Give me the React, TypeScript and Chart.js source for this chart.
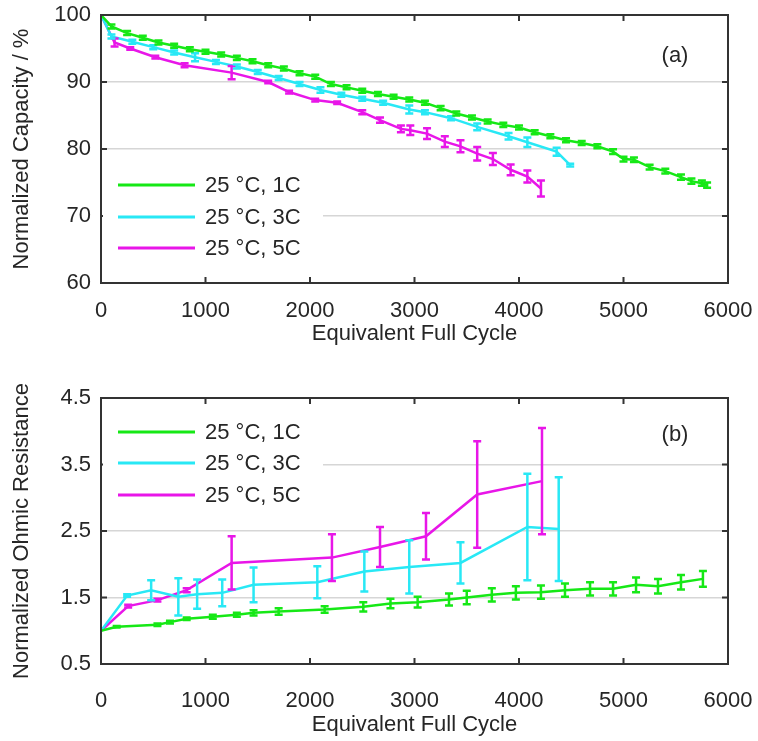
import React, { useEffect, useRef } from "react";
import { Chart, registerables } from "chart.js";

Chart.register(...registerables);

// ---------- shared labels / ticks ----------
const SERIES_LABELS = ["25 °C, 1C", "25 °C, 3C", "25 °C, 5C"];
const SERIES_COLORS = ["rgb(22,232,22)", "rgb(40,232,245)", "rgb(232,22,232)"];
const X_TICKS = [0, 1000, 2000, 3000, 4000, 5000, 6000];
const CAP_Y_TICKS = [60, 70, 80, 90, 100];
const RES_Y_TICKS = [0.5, 1.5, 2.5, 3.5, 4.5];
const X_TITLE = "Equivalent Full Cycle";
const CAP_Y_TITLE = "Normalized Capacity / %";
const RES_Y_TITLE = "Normalized Ohmic Resistance";
const CAP_PANEL = "(a)";
const RES_PANEL = "(b)";

// ---------- (a) normalized capacity ----------
const cap1C_x = [0, 100, 250, 400, 550, 700, 850, 1000, 1150, 1300, 1450, 1600, 1750, 1900, 2050, 2200, 2350, 2500, 2650, 2800, 2950, 3100, 3250, 3400, 3550, 3700, 3850, 4000, 4150, 4300, 4450, 4600, 4750, 4900, 5000, 5100, 5250, 5400, 5550, 5650, 5750, 5800];
const cap1C_y = [100, 98.3, 97.3, 96.6, 95.9, 95.4, 94.9, 94.5, 94.1, 93.6, 93.1, 92.5, 92.0, 91.3, 90.8, 89.7, 89.2, 88.7, 88.2, 87.8, 87.4, 86.9, 86.1, 85.3, 84.7, 84.1, 83.6, 83.2, 82.5, 81.9, 81.3, 80.9, 80.4, 79.6, 78.5, 78.4, 77.3, 76.7, 75.8, 75.2, 74.9, 74.6];
const cap1C_err = [0, 0.3, 0.3, 0.3, 0.3, 0.3, 0.3, 0.3, 0.3, 0.3, 0.3, 0.3, 0.3, 0.3, 0.3, 0.3, 0.3, 0.3, 0.3, 0.3, 0.3, 0.3, 0.3, 0.3, 0.3, 0.3, 0.3, 0.3, 0.3, 0.3, 0.3, 0.3, 0.3, 0.35, 0.35, 0.35, 0.35, 0.35, 0.4, 0.4, 0.4, 0.4];

const cap3C_x = [0, 100, 300, 500, 700, 900, 1100, 1300, 1500, 1700, 1900, 2100, 2300, 2500, 2700, 2950, 3100, 3350, 3600, 3900, 4080, 4360, 4490];
const cap3C_y = [100, 96.8, 96.0, 95.2, 94.4, 93.7, 93.0, 92.3, 91.5, 90.6, 89.7, 88.8, 88.1, 87.5, 86.9, 85.9, 85.5, 84.6, 83.3, 81.9, 81.0, 79.6, 77.6];
const cap3C_err = [0, 0.3, 0.3, 0.3, 0.3, 0.6, 0.3, 0.3, 0.3, 0.3, 0.3, 0.4, 0.3, 0.3, 0.3, 0.6, 0.3, 0.3, 0.5, 0.5, 0.7, 0.6, 0.2];

const cap5C_x = [0, 130, 280, 520, 800, 1250, 1600, 1800, 2050, 2260, 2500, 2670, 2870, 2960, 3120, 3290, 3440, 3600, 3750, 3920, 4080, 4210];
const cap5C_y = [100, 95.9, 95.0, 93.7, 92.5, 91.4, 90.0, 88.5, 87.3, 86.9, 85.5, 84.3, 83.0, 82.8, 82.3, 81.1, 80.4, 79.3, 78.5, 76.9, 75.9, 74.1];
const cap5C_err = [0, 0.6, 0.2, 0.2, 0.3, 1.0, 0.2, 0.2, 0.2, 0.2, 0.3, 0.4, 0.5, 0.7, 0.8, 0.8, 0.9, 1.0, 0.9, 0.8, 0.9, 1.2];

// ---------- (b) normalized ohmic resistance ----------
const res1C_x = [0, 150, 540, 660, 820, 1070, 1300, 1460, 1700, 2140, 2510, 2770, 3030, 3330, 3500, 3740, 3970, 4210, 4440, 4680, 4900, 5120, 5330, 5550, 5760];
const res1C_y = [1.0, 1.06, 1.09, 1.13, 1.18, 1.21, 1.24, 1.27, 1.29, 1.32, 1.36, 1.41, 1.43, 1.47, 1.5, 1.54, 1.57, 1.58, 1.61, 1.63, 1.63, 1.69, 1.67, 1.73, 1.78];
const res1C_err = [0, 0.01, 0.02, 0.02, 0.02, 0.03, 0.03, 0.04, 0.05, 0.05, 0.07, 0.07, 0.08, 0.09, 0.1, 0.1, 0.1, 0.1, 0.1, 0.1, 0.1, 0.11, 0.11, 0.11, 0.12];

const res3C_x = [0, 250, 480, 740, 920, 1160, 1460, 2070, 2520, 2950, 3440, 4080, 4380];
const res3C_y = [1.0, 1.53, 1.61, 1.51, 1.55, 1.57, 1.69, 1.73, 1.89, 1.96, 2.02, 2.56, 2.53];
const res3C_err = [0, 0.02, 0.15, 0.28, 0.22, 0.2, 0.26, 0.24, 0.3, 0.4, 0.31, 0.8, 0.78];

const res5C_x = [0, 260, 540, 820, 1250, 2210, 2670, 3110, 3600, 4220];
const res5C_y = [1.0, 1.37, 1.46, 1.61, 2.02, 2.1, 2.26, 2.42, 3.05, 3.25];
const res5C_err = [0, 0.02, 0.02, 0.03, 0.4, 0.35, 0.3, 0.35, 0.8, 0.8];

const FONT = "'Liberation Sans', Arial, Helvetica, sans-serif";
const TEXT = "#262626";
const FRAME = "#333333";
const GRID = "#d6d6d6";

function makeSet(i: number, xs: number[], ys: number[], errs: number[]) {
  return {
    label: SERIES_LABELS[i],
    data: xs.map((x, k) => ({ x, y: ys[k] })),
    errors: errs,
    borderColor: SERIES_COLORS[i],
    backgroundColor: SERIES_COLORS[i],
    borderWidth: 2.5,
    pointRadius: 0,
    tension: 0,
    fill: false,
  };
}

const decor = {
  id: "decor",
  afterDatasetsDraw(chart: any, _a: any, o: any) {
    const ctx = chart.ctx;
    const xs = chart.scales.x;
    const ys = chart.scales.y;
    const { left, right, top, bottom } = chart.chartArea;
    // error bars
    const dsets = chart.data.datasets.slice().reverse();
    dsets.forEach((ds: any) => {
      ctx.save();
      ctx.strokeStyle = ds.borderColor;
      ctx.lineWidth = 2.5;
      ds.data.forEach((p: any, i: number) => {
        const e = ds.errors[i];
        if (!e) return;
        const px = xs.getPixelForValue(p.x);
        const y1 = ys.getPixelForValue(p.y - e);
        const y2 = ys.getPixelForValue(p.y + e);
        const c = 4;
        ctx.beginPath();
        ctx.moveTo(px, y1);
        ctx.lineTo(px, y2);
        ctx.moveTo(px - c, y1);
        ctx.lineTo(px + c, y1);
        ctx.moveTo(px - c, y2);
        ctx.lineTo(px + c, y2);
        ctx.stroke();
      });
      ctx.restore();
    });
    // frame + inward ticks
    ctx.save();
    ctx.strokeStyle = FRAME;
    ctx.lineWidth = 2;
    ctx.strokeRect(left, top, right - left, bottom - top);
    ctx.beginPath();
    xs.ticks.forEach((t: any) => {
      const px = xs.getPixelForValue(t.value);
      ctx.moveTo(px, bottom);
      ctx.lineTo(px, bottom - 6);
      ctx.moveTo(px, top);
      ctx.lineTo(px, top + 6);
    });
    ys.ticks.forEach((t: any) => {
      const py = ys.getPixelForValue(t.value);
      ctx.moveTo(left, py);
      ctx.lineTo(left + 6, py);
      ctx.moveTo(right, py);
      ctx.lineTo(right - 6, py);
    });
    ctx.stroke();
    ctx.restore();
    // legend
    ctx.save();
    ctx.fillStyle = "#ffffff";
    ctx.fillRect(left + 2, o.legendTop, 220, o.legendH);
    ctx.font = `22px ${FONT}`;
    ctx.textBaseline = "middle";
    ctx.textAlign = "left";
    chart.data.datasets.forEach((ds: any, i: number) => {
      const ry = o.legendRows[i];
      ctx.strokeStyle = ds.borderColor;
      ctx.lineWidth = 3;
      ctx.beginPath();
      ctx.moveTo(left + 17, ry);
      ctx.lineTo(left + 94, ry);
      ctx.stroke();
      ctx.fillStyle = TEXT;
      ctx.fillText(ds.label, left + 104, ry + 1);
    });
    // panel label
    ctx.textAlign = "center";
    ctx.fillText(o.panel, o.panelX, o.panelY);
    ctx.restore();
  },
};

function buildConfig(p: any) {
  const H = p.height;
  return {
    type: "line",
    data: { datasets: p.datasets },
    plugins: [decor],
    options: {
      responsive: false,
      animation: false,
      devicePixelRatio: 1,
      layout: { padding: { left: 0, right: 30, top: p.plotTop, bottom: 0 } },
      plugins: {
        legend: { display: false },
        tooltip: { enabled: false },
        decor: {
          legendTop: p.legendTop,
          legendH: p.legendH,
          legendRows: p.legendRows,
          panel: p.panel,
          panelX: 675,
          panelY: p.panelY,
        },
      },
      scales: {
        x: {
          type: "linear",
          min: 0,
          max: 6000,
          afterBuildTicks: (s: any) => {
            s.ticks = X_TICKS.map((v) => ({ value: v }));
          },
          ticks: {
            padding: p.xTickPad,
            color: TEXT,
            font: { family: FONT, size: 22 },
            maxRotation: 0,
            autoSkip: false,
            callback: (v: any) => String(v),
          },
          grid: { display: false, drawTicks: false },
          border: { display: false },
          title: {
            display: true,
            text: X_TITLE,
            color: TEXT,
            font: { family: FONT, size: 22 },
            padding: { top: 0, bottom: p.xTitlePad },
          },
          afterFit: (s: any) => {
            s.height = H - p.plotBottom;
            s.paddingLeft = 0;
            s.paddingRight = 0;
          },
        },
        y: {
          type: "linear",
          min: p.yTicks[0],
          max: p.yTicks[p.yTicks.length - 1],
          afterBuildTicks: (s: any) => {
            s.ticks = p.yTicks.map((v: number) => ({ value: v }));
          },
          ticks: {
            padding: 10,
            color: TEXT,
            font: { family: FONT, size: 22 },
            callback: (v: any) => String(v),
          },
          grid: {
            drawTicks: false,
            lineWidth: 1.5,
            color: (c: any) =>
              c.tick && c.tick.value > p.yTicks[0] && c.tick.value < p.yTicks[p.yTicks.length - 1]
                ? GRID
                : "rgba(0,0,0,0)",
          },
          border: { display: false },
          title: {
            display: true,
            text: p.yTitle,
            color: TEXT,
            font: { family: FONT, size: 22 },
            padding: { top: 9, bottom: 0 },
          },
          afterFit: (s: any) => {
            s.width = 101;
            s.paddingTop = 0;
            s.paddingBottom = 0;
          },
        },
      },
    },
  };
}

function Panel(props: any) {
  const ref = useRef<HTMLCanvasElement | null>(null);
  useEffect(() => {
    if (!ref.current) return;
    const chart = new Chart(ref.current, buildConfig(props.cfg) as any);
    return () => chart.destroy();
  }, []);
  return (
    <canvas
      ref={ref}
      width={758}
      height={props.cfg.height}
      style={{ position: "absolute", left: 0, top: props.top, width: 758, height: props.cfg.height, display: "block" }}
    />
  );
}

export default function App() {
  const top = {
    height: 370,
    plotTop: 15,
    plotBottom: 283,
    xTickPad: 15,
    xTitlePad: 23,
    yTicks: CAP_Y_TICKS,
    yTitle: CAP_Y_TITLE,
    legendTop: 166,
    legendH: 100,
    legendRows: [185, 217, 248],
    panel: CAP_PANEL,
    panelY: 56,
    datasets: [
      makeSet(0, cap1C_x, cap1C_y, cap1C_err),
      makeSet(1, cap3C_x, cap3C_y, cap3C_err),
      makeSet(2, cap5C_x, cap5C_y, cap5C_err),
    ],
  };
  const bottom = {
    height: 371,
    plotTop: 28,
    plotBottom: 294,
    xTickPad: 24,
    xTitlePad: 3,
    yTicks: RES_Y_TICKS,
    yTitle: RES_Y_TITLE,
    legendTop: 44,
    legendH: 99,
    legendRows: [62, 93, 125],
    panel: RES_PANEL,
    panelY: 65,
    datasets: [
      makeSet(0, res1C_x, res1C_y, res1C_err),
      makeSet(1, res3C_x, res3C_y, res3C_err),
      makeSet(2, res5C_x, res5C_y, res5C_err),
    ],
  };
  return (
    <div style={{ position: "absolute", left: 0, top: 0, width: 758, height: 741, background: "#fff" }}>
      <Panel cfg={top} top={0} />
      <Panel cfg={bottom} top={370} />
    </div>
  );
}
